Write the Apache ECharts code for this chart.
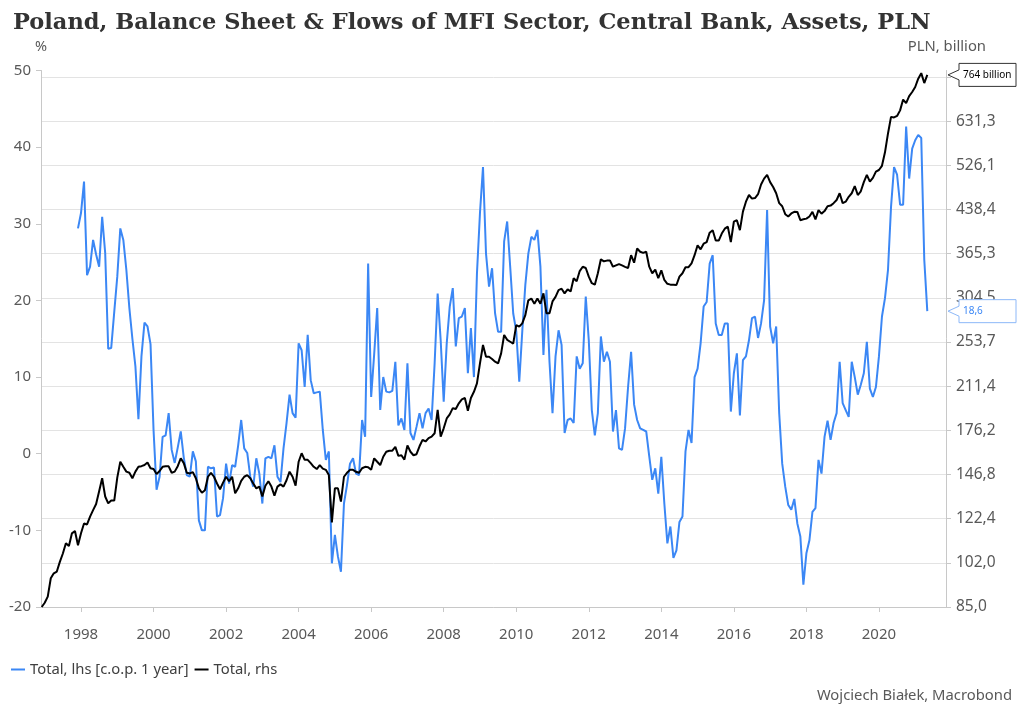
<!DOCTYPE html>
<html><head><meta charset="utf-8">
<script src="https://cdn.jsdelivr.net/npm/echarts@6/dist/echarts.min.js"></script>
<style>html,body{margin:0;padding:0;background:#fff}#c{width:1024px;height:717px}</style>
</head><body><div id="c"></div><script>
// ---- data ----
const titleText = 'Poland, Balance Sheet & Flows of MFI Sector, Central Bank, Assets, PLN';
const blueName = 'Total, lhs [c.o.p. 1 year]';
const blackName = 'Total, rhs';
const blueStart = [1997, 12];   // first month of blue series
const blackStart = [1996, 12];  // first month of black series
const blueValues = [
29.4,31.4,35.5,23.3,24.4,27.9,26,24.4,30.9,26.2,13.7,13.8,18.5,23.1,29.4,27.9,24,19,15,11.4,
4.5,12.7,17.1,16.6,14.3,3.1,-4.7,-3,2.2,2.4,5.3,0.5,-1.2,0.8,2.9,-0.5,-2.8,-3.0,0.3,-1,
-8.7,-10,-10,-1.7,-1.9,-1.8,-8.2,-8,-5.8,-1.3,-3.9,-1.5,-1.7,1.1,4.4,0.7,0.1,-3,-4.3,-0.6,
-2.6,-6.5,-0.6,-0.4,-0.6,1.1,-3,-3.7,0.7,4,7.7,5.3,4.7,14.4,13.5,8.7,15.5,9.6,7.9,8,
8.1,3.1,-0.8,0.3,-14.3,-10.6,-13.4,-15.4,-6.5,-4.1,-1.3,-0.6,-2.6,-2.8,4.4,2.2,24.8,7.4,13,19,
5.7,10,8.1,8.0,8.2,12,3.7,4.6,3.1,11.8,2.7,1.8,3.5,5.3,3.3,5.3,5.9,4.4,11.8,20.9,
14.8,6.8,14.4,19.2,21.6,14,17.7,17.9,19,10.5,16.4,10,23.5,31.4,37.4,26.1,21.8,24.2,18.3,15.9,
15.9,27.7,30.3,24.4,18.3,16,9.4,16,22,26.1,28.3,27.9,29.2,24.4,12.9,21.4,12,5.3,12.7,16.1,
14.2,2.7,4.4,4.6,4.0,12.7,11.1,11.8,20.5,14.8,5.7,2.4,5.3,15.3,12,13.3,12,2.9,5.7,0.7,
0.5,3.3,8.7,13.3,6.4,4.4,3.3,3.1,2.9,-0.3,-3.4,-1.9,-5.2,-0.4,-6.5,-11.7,-9.5,-13.6,-12.6,-8.9,
-8.2,0.3,3.1,1.4,10,11.1,14.4,19.2,19.8,24.8,25.9,17,15.5,15.5,17,17,5.5,10.5,13.1,5.0,
12.2,12.7,14.8,17.7,17.9,15.1,17,20,31.8,16.6,14.4,16.6,5.3,-1.3,-4.3,-6.7,-7.3,-5.9,-9.1,-10.8,
-17.1,-13,-11.3,-7.6,-7.1,-0.8,-2.6,2.2,4.3,1.8,4.0,5.3,12,6.6,5.7,4.8,12,10,7.7,9,
10.5,14.6,8.5,7.4,8.7,12.7,17.9,20.3,24,32.2,37.4,36.4,32.5,32.5,42.7,35.9,39.8,40.9,41.6,41.2,
25.3,18.6
];
const blackValues = [
85.0,86.5,88.7,95.7,97.7,98.4,102.4,106,110.6,109.3,115.2,116.3,109.7,115.2,120.0,119.5,123.4,126.8,130,137,
144.6,134.1,130.4,131.9,131.9,145,154.8,151.6,148.6,147.9,144.6,148.6,151.6,152,152.7,154.3,150.7,150.2,147.1,149,
151.6,152,151.9,147.9,148.6,152,157.0,153.9,147.9,147.5,148.3,144.6,138.7,136.2,137.6,145.5,147.9,145.5,141.5,138.2,
142,145.5,142.8,145.5,135.9,138.7,143,145.5,146.5,144.6,141.5,138.7,139.7,134.1,140.2,142.8,139.7,134.6,139.7,141.0,
139.7,143.4,148.6,145.5,140.2,154.8,160.3,156,156,153.9,151.6,150.2,152.7,150.5,149.7,146.5,120.5,138.7,138.7,131.3,
145.5,147.9,149.7,149.7,148.5,147.9,150.7,151.6,151.3,149.7,157,154.8,152.7,158,161.3,162,162,164.6,158.6,159,
156.2,165.6,161.3,159,159.7,165,169.4,168.3,170.6,171.7,174.1,191.7,171.7,177.7,185.1,188.2,193.1,192.5,197,200.3,
201.4,191.1,201.4,206.6,213.9,232.3,250.6,238.7,238.7,236.5,233.9,232.3,242.1,261.2,256,254,252,272,270.3,274,
283.4,301.4,303.5,297.2,303.5,297.2,310.1,285.6,285.6,300,305.6,314.4,316.2,310.1,315.3,312.6,330.1,326,340,346.2,
344.4,332.3,323.4,321.5,336.9,356.9,354,355,355.3,346.2,348.1,350,348,346,344.4,363,352,373.2,368.3,366.5,
368.3,346.2,337,342,330.1,341,327.8,322.6,321.5,321.5,321,332.3,337,345.5,345.5,351.1,363,378.2,372,380.7,
383.2,398.4,402.5,385.7,385.7,397,405,408.5,383.2,416.8,419.5,402.5,434.5,452.7,465.4,458.5,459.5,467,486,498,
505.6,490.8,481,468.8,450,444.3,430,426,431.3,434.3,434,419.5,421,422.2,426,434.3,420.7,437.2,431,435.5,
444.3,445.5,450,455.9,468.8,450,452.7,462,468.8,483,465.4,472.6,490.8,505.6,491.9,499.6,512.6,516,525,555,
600,642.5,641,645,660,690,680,700,712,726.8,752.2,769.5,738.7,764
];
const xTickYears = [1998,2000,2002,2004,2006,2008,2010,2012,2014,2016,2018,2020];
const rightTicks = [85.0,102.0,122.4,146.8,176.2,211.4,253.7,304.5,365.3,438.4,526.1,631.3,757.6];
const rightLabelTicks = [85.0,102.0,122.4,146.8,176.2,211.4,253.7,304.5,365.3,438.4,526.1,631.3];
const lastBlackLabel = '764 billion';
const lastBlueLabel = '18,6';

// ---- helpers: month -> decimal year position on the x axis ----
function monthPositions(start, n) {
  const out = [];
  for (let i = 0; i < n; i++) out.push(start[0] + (start[1] - 1 + i) / 12);
  return out;
}
const blueX = monthPositions(blueStart, blueValues.length);
const blackX = monthPositions(blackStart, blackValues.length);
const blueData = blueX.map((x, i) => [x, blueValues[i]]);
const blackData = blackX.map((x, i) => [x, blackValues[i]]);

const FONT = "'Noto Sans', 'Open Sans', sans-serif";
const BLUE = '#3b87f5';
const GRAY = '#595959';
const xMin = 1996.897, xMax = 2021.849;

const chart = echarts.init(document.getElementById('c'), null, {renderer: 'canvas'});

chart.setOption({
  animation: false,
  backgroundColor: '#fff',
  textStyle: {fontFamily: FONT},
  title: {
    text: titleText, left: 8, top: 7,
    textStyle: {fontFamily: "'DejaVu Serif', serif", fontWeight: 'bold', fontSize: 22.5, color: '#333'}
  },
  legend: {
    left: 6, top: 657, itemWidth: 14, itemHeight: 2, itemGap: 6,
    icon: 'rect',
    textStyle: {fontFamily: FONT, fontSize: 14.8, color: '#404040'},
    data: [blueName, blackName]
  },
  grid: {left: 41, right: 78, top: 70.5, bottom: 110, containLabel: false},
  xAxis: {
    type: 'value', min: xMin, max: xMax,
    axisLine: {show: true, onZero: false, lineStyle: {color: '#c8c8c8'}},
    axisTick: {show: true, length: 5, lineStyle: {color: '#c8c8c8'}, customValues: xTickYears},
    axisLabel: {
      customValues: xTickYears, color: GRAY, fontSize: 15, fontFamily: FONT, margin: 20,
      formatter: v => String(Math.round(v))
    },
    splitLine: {show: false}
  },
  yAxis: [{
    type: 'value', position: 'left', min: -20, max: 50, interval: 10,
    axisLine: {show: true, lineStyle: {color: '#c8c8c8'}},
    axisTick: {show: true, length: 5, lineStyle: {color: '#c8c8c8'}},
    axisLabel: {color: GRAY, fontSize: 15, fontFamily: FONT, margin: 10},
    splitLine: {show: false}
  }, {
    type: 'log', logBase: 10, position: 'right', min: 85, max: 778,
    axisLine: {show: true, lineStyle: {color: '#c8c8c8'}},
    axisTick: {show: true, length: 5, lineStyle: {color: '#c8c8c8'}, customValues: rightTicks},
    axisLabel: {
      customValues: rightLabelTicks, color: GRAY, fontSize: 15.5, fontFamily: FONT, margin: 10,
      formatter: v => Number(v).toFixed(1).replace('.', ',')
    },
    splitLine: {show: true, lineStyle: {color: '#e3e3e3', width: 1}}
  }],
  series: [{
    name: blueName, type: 'line', yAxisIndex: 0, data: blueData,
    showSymbol: false, symbol: 'none', color: BLUE,
    lineStyle: {color: BLUE, width: 2}
  }, {
    name: blackName, type: 'line', yAxisIndex: 1, data: blackData,
    showSymbol: false, symbol: 'none', color: '#000',
    lineStyle: {color: '#000', width: 2}
  }]
});

// tags at the right axis, positioned through the chart's own scales
const axisX = chart.convertToPixel({xAxisIndex: 0}, xMax);
const yBlack = chart.convertToPixel({yAxisIndex: 1}, blackValues[blackValues.length - 1]);
const yBlue = chart.convertToPixel({yAxisIndex: 0}, blueValues[blueValues.length - 1]);
function tag(yc, text, stroke, color) {
  const x0 = axisX + 2, x1 = x0 + 11, x2 = 1016, h = 11.5;
  return [{
    type: 'polygon', z: 100,
    shape: {points: [[x0, yc], [x1, yc - 5], [x1, yc - h], [x2, yc - h], [x2, yc + h], [x1, yc + h], [x1, yc + 5]]},
    style: {fill: '#fff', stroke: stroke, lineWidth: 1}
  }, {
    type: 'text', z: 101, x: x1 + 4, y: yc,
    style: {text: text, fill: color, font: "10px 'Noto Sans', sans-serif", verticalAlign: 'middle'}
  }];
}
chart.setOption({
  graphic: [
    {type: 'text', left: 35, top: 39, style: {text: '%', fill: GRAY, font: "14.5px 'Noto Sans', sans-serif"}},
    {type: 'text', right: 38, top: 39, style: {text: 'PLN, billion', fill: GRAY, font: "14.8px 'Noto Sans', sans-serif"}},
    {type: 'text', right: 12, top: 688, style: {text: 'Wojciech Białek, Macrobond', fill: GRAY, font: "14.8px 'Noto Sans', sans-serif"}}
  ].concat(tag(yBlack, lastBlackLabel, '#333', '#000'), tag(yBlue, lastBlueLabel, '#8db8f8', BLUE))
});
</script></body></html>
